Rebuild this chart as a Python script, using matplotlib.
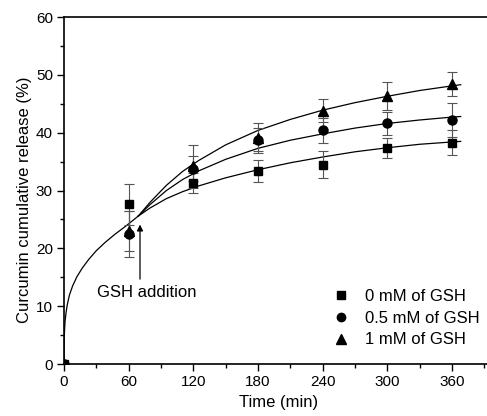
import numpy as np
import matplotlib
matplotlib.use('Agg')
import matplotlib.pyplot as plt
from matplotlib.ticker import MultipleLocator
from matplotlib.lines import Line2D

plt.rcParams['font.family'] = ['Liberation Sans', 'DejaVu Sans']

# measured release data (%)
time = [0, 60, 120, 180, 240, 300, 360]
gsh0 = [0, 27.6, 31.3, 33.3, 34.5, 37.3, 38.3]
gsh0_err = [0, 3.6, 1.8, 1.9, 2.3, 1.7, 2.2]
gsh05 = [0, 22.5, 33.8, 38.8, 40.4, 41.6, 42.2]
gsh05_err = [0, 4.0, 2.2, 2.0, 2.2, 2.0, 3.0]
gsh1 = [0, 23.0, 34.2, 39.1, 43.8, 46.3, 48.4]
gsh1_err = [0, 3.4, 3.7, 2.6, 2.0, 2.4, 2.1]

# fitted curves
fit_t_early = [0, 0.25, 0.5, 1, 2, 3, 5, 8, 12, 17, 23, 30, 38, 47, 57, 69]
fit_early = [0, 4.5, 5.8, 7.4, 9.0, 10.2, 11.9, 13.5, 15.1, 16.6, 18.1, 19.6, 21.0, 22.4, 23.8, 25.6]
fit_t_late = [69, 80, 95, 110, 125, 150, 180, 210, 240, 270, 300, 330, 360, 368]
fit_gsh0 = [25.6, 27.0, 28.6, 29.8, 30.8, 32.2, 33.6, 34.8, 35.8, 36.7, 37.4, 38.0, 38.4, 38.5]
fit_gsh05 = [25.6, 27.6, 30.0, 31.9, 33.4, 35.4, 37.3, 38.7, 39.8, 40.8, 41.6, 42.2, 42.7, 42.8]
fit_gsh1 = [25.6, 28.0, 30.9, 33.3, 35.2, 37.9, 40.4, 42.3, 43.9, 45.2, 46.3, 47.3, 48.1, 48.3]

fig = plt.figure(figsize=(4.87, 4.16), dpi=100)
ax = fig.add_axes([0.1314, 0.125, 0.8686, 0.834])

ax.plot(fit_t_early, fit_early, color='black', lw=0.9)
for f in [fit_gsh0, fit_gsh05, fit_gsh1]:
    ax.plot(fit_t_late, f, color='black', lw=0.9)

ekw = dict(ecolor='#555555', elinewidth=0.8, capsize=3.5, capthick=0.8, color='black', ls='none')
ax.errorbar(time, gsh1, yerr=gsh1_err, fmt='^', ms=7, **ekw)
ax.errorbar(time, gsh05, yerr=gsh05_err, fmt='o', ms=6.5, **ekw)
ax.errorbar(time, gsh0, yerr=gsh0_err, fmt='s', ms=6, **ekw)

ax.annotate('', xy=(70.5, 24.6), xytext=(70.5, 14.2),
            arrowprops=dict(arrowstyle='-|>', color='black', lw=0.9, mutation_scale=9))
ax.text(31, 12.3, 'GSH addition', fontsize=12, va='center', ha='left')

ax.set_xlim(0, 392.4)
ax.set_ylim(0, 60)
ax.xaxis.set_major_locator(MultipleLocator(60))
ax.xaxis.set_minor_locator(MultipleLocator(30))
ax.yaxis.set_major_locator(MultipleLocator(10))
ax.yaxis.set_minor_locator(MultipleLocator(5))
ax.tick_params(which='major', direction='out', length=5, width=1, labelsize=11, pad=3)
ax.tick_params(which='minor', direction='out', length=3, width=1)
ax.spines['right'].set_visible(False)
for s in ['left', 'bottom', 'top']:
    ax.spines[s].set_linewidth(1.2)

ax.set_xlabel('Time (min)', fontsize=12)
ax.set_ylabel('Curcumin cumulative release (%)', fontsize=12)
ax.xaxis.set_label_coords(0.507, -0.088)
ax.yaxis.set_label_coords(-0.075, 0.473)

labels = ['0 mM of GSH', '0.5 mM of GSH', '1 mM of GSH']
handles = [Line2D([], [], ls='none', marker=m, color='black', ms=s)
           for m, s in [('s', 5.5), ('o', 6), ('^', 6.5)]]
ax.legend(handles, labels, loc='lower right', bbox_to_anchor=(0.982, 0.048), frameon=False,
          fontsize=12, handlelength=1.0, handletextpad=0.9, labelspacing=0.4,
          borderpad=0, borderaxespad=0)

fig.savefig('out.png', dpi=100)
